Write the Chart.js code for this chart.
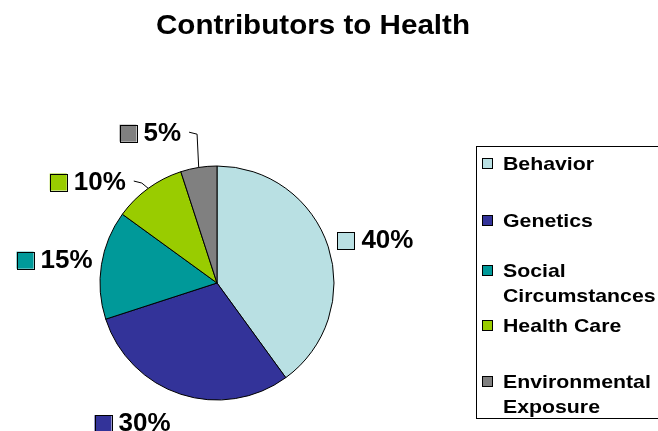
<!DOCTYPE html>
<html>
<head>
<meta charset="utf-8">
<title>Contributors to Health</title>
<script src="https://cdn.jsdelivr.net/npm/chart.js@4/dist/chart.umd.min.js"></script>
<style>
    body { margin: 0; background: #fff; }
    canvas { display: block; }
</style>
</head>
<body>
<canvas id="healthChart" width="658" height="431"></canvas>
<script>
// Chart data
const chartTitle = 'Contributors to Health';
const categories = [
    ['Behavior'],
    ['Genetics'],
    ['Social', 'Circumstances'],
    ['Health Care'],
    ['Environmental', 'Exposure']
];
const shares = [40, 30, 15, 10, 5];
const sliceColors = ['#B9E0E3', '#333399', '#009999', '#99CC00', '#808080'];

const FONT = '"Liberation Sans", Arial, sans-serif';

// text drawn a little wider, like the original's renderer
function wideText(ctx, text, x, y, sx, align) {
    ctx.save();
    ctx.translate(x, y);
    ctx.scale(sx, 1);
    ctx.textAlign = align;
    ctx.fillText(text, 0, 0);
    ctx.restore();
}

// Title, percent labels with leader lines, and the boxed legend
const decorPlugin = {
    id: 'decor',
    afterDatasetsDraw(chart, args, opts) {
        const ctx = chart.ctx;
        ctx.save();

        // title
        ctx.fillStyle = '#000';
        ctx.font = 'bold 28px ' + FONT;
        ctx.textBaseline = 'alphabetic';
        wideText(ctx, chartTitle, opts.titleX, opts.titleY, 1.057, 'center');

        // slice labels
        const arcs = chart.getDatasetMeta(0).data;
        ctx.font = 'bold 25px ' + FONT;
        ctx.textBaseline = 'middle';
        arcs.forEach((arc, i) => {
            const p = arc.getProps(['x', 'y', 'startAngle', 'endAngle', 'outerRadius'], true);
            const mid = (p.startAngle + p.endAngle) / 2;
            const a = mid + opts.labelNudge[i] * Math.PI / 180;
            const cx = p.x + Math.cos(a) * opts.labelRadius;
            const cy = p.y + Math.sin(a) * opts.labelRadius;
            const text = shares[i] + '%';
            const tw = ctx.measureText(text).width * 1.04;
            const box = 17, gap = 7;
            const left = cx - (box + gap + tw) / 2;
            ctx.fillStyle = sliceColors[i];
            ctx.fillRect(left, cy - box / 2, box, box);
            ctx.strokeStyle = '#000';
            ctx.lineWidth = 1;
            ctx.strokeRect(Math.round(left) + 0.5, Math.round(cy - box / 2) + 0.5, box, box);
            ctx.fillStyle = '#000';
            wideText(ctx, text, left + box + gap, cy + 1, 1.04, 'left');

            // leader line for the small slices
            if (shares[i] <= 10) {
                const ex = p.x + Math.cos(mid) * p.outerRadius;
                const ey = p.y + Math.sin(mid) * p.outerRadius;
                const right = left + box + gap + tw;
                ctx.beginPath();
                ctx.moveTo(ex, ey);
                ctx.lineTo(right + 16, cy + 1);
                ctx.lineTo(right + 8, cy - 1);
                ctx.stroke();
            }
        });

        // legend
        const lg = opts.legend;
        ctx.strokeStyle = '#000';
        ctx.lineWidth = 1;
        ctx.strokeRect(lg.x + 0.5, lg.y + 0.5, lg.w, lg.h);
        ctx.font = 'bold 19px ' + FONT;
        ctx.textBaseline = 'alphabetic';
        categories.forEach((lines, i) => {
            const y = lg.rowY[i];
            ctx.fillStyle = sliceColors[i];
            ctx.fillRect(lg.x + 6, y - 5, 10, 10);
            ctx.strokeRect(lg.x + 6.5, y - 4.5, 10, 10);
            ctx.fillStyle = '#000';
            lines.forEach((line, j) => {
                wideText(ctx, line, lg.x + 27, y + 7 + j * 24.5, 1.12, 'left');
            });
        });

        ctx.restore();
    }
};

new Chart(document.getElementById('healthChart'), {
    type: 'pie',
    data: {
        labels: categories,
        datasets: [{
            data: shares,
            backgroundColor: sliceColors,
            borderColor: '#000',
            borderWidth: 1,
            radius: 117
        }]
    },
    options: {
        responsive: false,
        animation: false,
        layout: {
            padding: { left: 100, right: 324, top: 166, bottom: 31 }
        },
        plugins: {
            legend: { display: false },
            title: { display: false },
            tooltip: { enabled: false },
            decor: {
                titleX: 313,
                titleY: 34,
                labelRadius: 164,
                labelNudge: [3, 13, -1, -16, -15],
                legend: { x: 476, y: 146, w: 240, h: 272, rowY: [163, 220, 270, 325, 381] }
            }
        }
    },
    plugins: [decorPlugin]
});
</script>
</body>
</html>
